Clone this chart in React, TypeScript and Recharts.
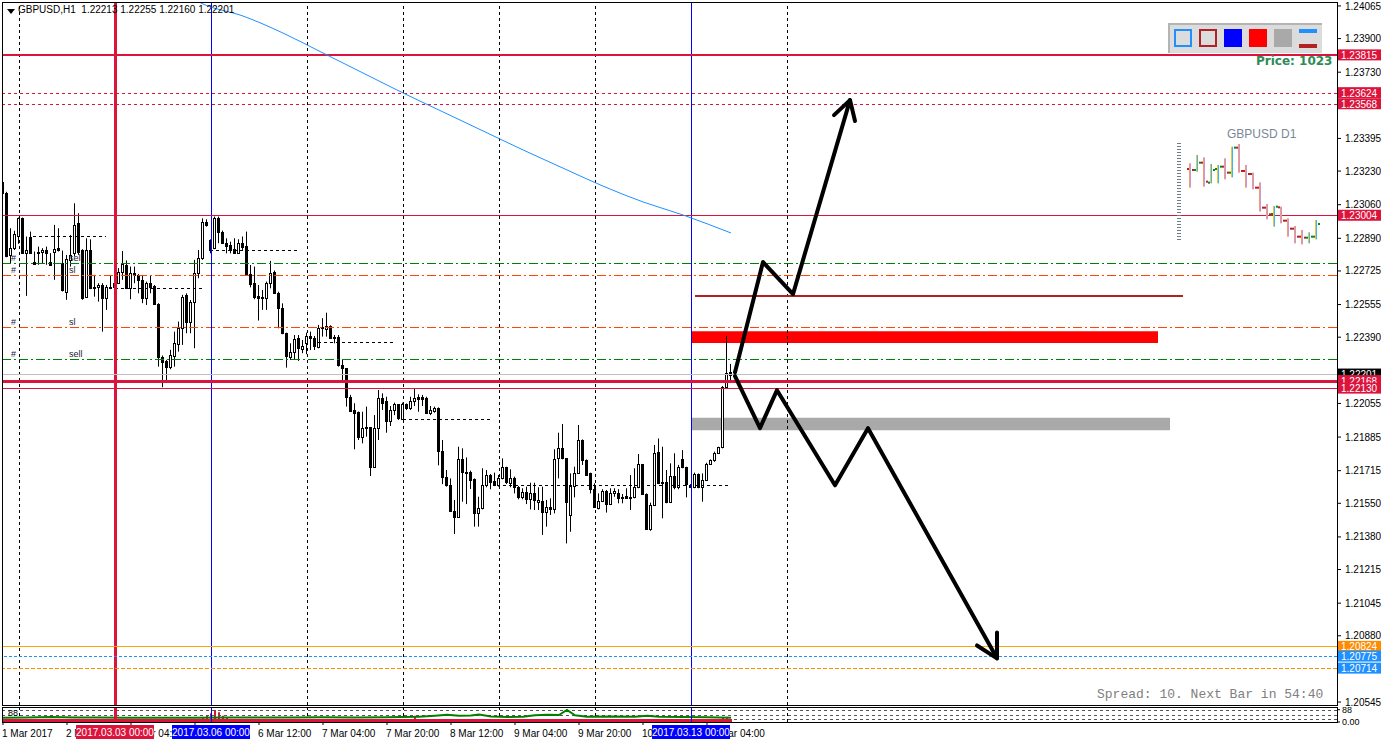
import React from 'react';
import { Bar, ComposedChart, Line, ReferenceArea, ReferenceLine, XAxis, YAxis } from 'recharts';

const FONT = '"Liberation Sans", Arial, sans-serif';
const CRIMSON = '#DC143C';
const BLUE = '#0000FF';

// GBPUSD H1, bar 0 = 1 Mar 2017 20:00
const opens = [
  1.23177, 1.23121, 1.22806, 1.2284, 1.22902, 1.22992, 1.22815, 1.22899, 1.22772, 1.22823,
  1.22823, 1.22831, 1.22772, 1.22823, 1.2284, 1.22764, 1.22621, 1.22781, 1.22815, 1.22966,
  1.22831, 1.22595, 1.22831, 1.22646, 1.22643, 1.22654, 1.2259, 1.22646, 1.22643, 1.22666,
  1.22722, 1.22756, 1.22638, 1.22713, 1.22705, 1.2268, 1.22587, 1.22663, 1.22649, 1.22558,
  1.22289, 1.22272, 1.22241, 1.22295, 1.22356, 1.22435, 1.22604, 1.22469, 1.2257, 1.22713,
  1.22789, 1.22974, 1.22882, 1.2284, 1.22991, 1.22924, 1.22868, 1.22856, 1.22835, 1.22818,
  1.22868, 1.22851, 1.2271, 1.22663, 1.22599, 1.22592, 1.22587, 1.22663, 1.22722, 1.22615,
  1.22536, 1.2241, 1.22292, 1.22317, 1.22384, 1.22329, 1.22363, 1.22396, 1.22384, 1.22342,
  1.22438, 1.22433, 1.22447, 1.22393, 1.22393, 1.2225, 1.22233, 1.22089, 1.22022, 1.22014,
  1.21883, 1.21937, 1.21934, 1.21735, 1.21929, 1.22081, 1.22069, 1.21968, 1.22022, 1.22052,
  1.21975, 1.22052, 1.2203, 1.22069, 1.22086, 1.22086, 1.22082, 1.22005, 1.22018, 1.2203,
  1.21816, 1.21685, 1.21642, 1.21513, 1.21482, 1.21772, 1.21708, 1.21708, 1.21671, 1.21503,
  1.21524, 1.21642, 1.21693, 1.21664, 1.21641, 1.21676, 1.21732, 1.21654, 1.21676, 1.21631,
  1.2158, 1.21609, 1.2157, 1.21604, 1.21555, 1.21562, 1.21508, 1.2153, 1.21519, 1.21777,
  1.21828, 1.21777, 1.21491, 1.21637, 1.21701, 1.2187, 1.21769, 1.21701, 1.21621, 1.21524,
  1.21563, 1.21614, 1.21546, 1.216, 1.21604, 1.21583, 1.21587, 1.21575, 1.21583, 1.21631,
  1.21749, 1.21597, 1.21418, 1.21541, 1.21811, 1.21651, 1.21659, 1.21558, 1.21688, 1.21634,
  1.21772, 1.21732, 1.21642, 1.21634, 1.21698, 1.21634, 1.21668, 1.21749, 1.21769, 1.21803,
  1.21833, 1.22136, 1.22213,
];
const highs = [
  1.23189, 1.23125, 1.22941, 1.22928, 1.22995, 1.22995, 1.22899, 1.22924, 1.22823, 1.22848,
  1.2284, 1.22848, 1.22815, 1.22958, 1.22941, 1.22828, 1.22806, 1.22907, 1.23067, 1.23017,
  1.22835, 1.2289, 1.22885, 1.22705, 1.22663, 1.22663, 1.22654, 1.227, 1.22697, 1.22739,
  1.22826, 1.22778, 1.22747, 1.22747, 1.2271, 1.227, 1.22671, 1.227, 1.22654, 1.22562,
  1.22297, 1.22275, 1.22326, 1.22418, 1.22469, 1.22604, 1.22612, 1.22578, 1.22781, 1.22831,
  1.22991, 1.22986, 1.22885, 1.23, 1.23, 1.22929, 1.2289, 1.22873, 1.2289, 1.22885,
  1.22899, 1.22924, 1.22755, 1.22747, 1.22654, 1.22629, 1.22671, 1.22776, 1.22727, 1.2262,
  1.22561, 1.22413, 1.22359, 1.22401, 1.22401, 1.22376, 1.22413, 1.22418, 1.22396, 1.22452,
  1.22486, 1.22514, 1.2245, 1.22401, 1.22401, 1.22278, 1.22233, 1.22098, 1.22056, 1.22014,
  1.22013, 1.22039, 1.21934, 1.21996, 1.22123, 1.22106, 1.22089, 1.22042, 1.22059, 1.22052,
  1.22059, 1.22055, 1.22089, 1.22131, 1.22101, 1.22098, 1.22089, 1.22042, 1.22039, 1.22035,
  1.2187, 1.21718, 1.21676, 1.21567, 1.21836, 1.21828, 1.21782, 1.21715, 1.21676, 1.21583,
  1.21727, 1.21718, 1.21698, 1.21705, 1.21693, 1.21777, 1.21735, 1.21722, 1.21685, 1.21637,
  1.21626, 1.21634, 1.21654, 1.21654, 1.21631, 1.21634, 1.21567, 1.21575, 1.21823, 1.21907,
  1.21951, 1.21777, 1.21701, 1.21735, 1.21946, 1.21873, 1.21772, 1.21705, 1.21651, 1.216,
  1.21621, 1.21617, 1.21626, 1.21626, 1.21621, 1.21597, 1.21626, 1.21693, 1.21727, 1.21799,
  1.21749, 1.216, 1.21553, 1.21845, 1.21878, 1.21836, 1.21718, 1.21752, 1.21803, 1.21744,
  1.21819, 1.21735, 1.21647, 1.21705, 1.21701, 1.21701, 1.21755, 1.21772, 1.21811, 1.21836,
  1.22143, 1.22396, 1.22255,
];
const lows = [
  1.2311, 1.22794, 1.22764, 1.22831, 1.22862, 1.22815, 1.22599, 1.22815, 1.22756, 1.22756,
  1.22761, 1.22756, 1.22751, 1.2268, 1.22823, 1.22621, 1.22579, 1.22747, 1.22798, 1.22806,
  1.22579, 1.22592, 1.22633, 1.22595, 1.2257, 1.22418, 1.22528, 1.22633, 1.22621, 1.22659,
  1.2268, 1.22633, 1.22582, 1.22663, 1.22612, 1.22562, 1.22553, 1.22612, 1.22553, 1.22241,
  1.22137, 1.22161, 1.22228, 1.22241, 1.22317, 1.22351, 1.2241, 1.2241, 1.22334, 1.22688,
  1.22781, 1.22949, 1.22814, 1.22835, 1.22865, 1.22862, 1.22814, 1.22814, 1.22814, 1.22814,
  1.22831, 1.227, 1.22642, 1.22582, 1.22474, 1.22528, 1.22528, 1.22637, 1.22612, 1.22435,
  1.22405, 1.22236, 1.22275, 1.22275, 1.2227, 1.22309, 1.22304, 1.22325, 1.22325, 1.22334,
  1.22393, 1.22393, 1.22381, 1.22359, 1.22241, 1.22174, 1.22039, 1.22014, 1.21823, 1.2187,
  1.21853, 1.21887, 1.21688, 1.21732, 1.2187, 1.22022, 1.21907, 1.21941, 1.21996, 1.21971,
  1.21971, 1.22022, 1.22022, 1.22042, 1.22013, 1.22042, 1.22002, 1.21996, 1.22008, 1.21742,
  1.21647, 1.21634, 1.21506, 1.21395, 1.21479, 1.21558, 1.21546, 1.21622, 1.21432, 1.21432,
  1.21519, 1.21631, 1.21621, 1.21637, 1.21634, 1.21671, 1.21647, 1.21631, 1.216, 1.2157,
  1.2157, 1.21546, 1.21519, 1.21516, 1.21516, 1.2139, 1.21432, 1.21491, 1.21499, 1.21676,
  1.21772, 1.21347, 1.21406, 1.2158, 1.21698, 1.21744, 1.21688, 1.216, 1.2153, 1.21519,
  1.21556, 1.21503, 1.21541, 1.21583, 1.2155, 1.2155, 1.21572, 1.21516, 1.21575, 1.21626,
  1.21592, 1.21415, 1.21411, 1.21536, 1.21647, 1.21474, 1.2155, 1.21553, 1.21621, 1.21621,
  1.21727, 1.2158, 1.21631, 1.21626, 1.21626, 1.21558, 1.21664, 1.21744, 1.2176, 1.21799,
  1.21828, 1.22131, 1.2216,
];
const closes = [
  1.23118, 1.22801, 1.2284, 1.22911, 1.22992, 1.22818, 1.22831, 1.22818, 1.22761, 1.22818,
  1.22831, 1.22818, 1.22756, 1.22836, 1.22831, 1.22629, 1.22784, 1.22806, 1.22958, 1.22823,
  1.22587, 1.22831, 1.22638, 1.22638, 1.22653, 1.2259, 1.22646, 1.22638, 1.22663, 1.22722,
  1.22759, 1.22638, 1.22713, 1.22705, 1.2268, 1.22587, 1.22663, 1.22646, 1.22558, 1.22289,
  1.22267, 1.22241, 1.223, 1.22359, 1.22435, 1.22595, 1.22469, 1.2257, 1.22713, 1.22789,
  1.22974, 1.22958, 1.22831, 1.22991, 1.22924, 1.22865, 1.22851, 1.22831, 1.22818, 1.22865,
  1.22848, 1.22705, 1.22659, 1.22595, 1.22587, 1.22587, 1.22663, 1.22713, 1.22615, 1.22536,
  1.2241, 1.22295, 1.22317, 1.22379, 1.22334, 1.22346, 1.22396, 1.22384, 1.22347, 1.22438,
  1.22443, 1.22447, 1.22384, 1.22386, 1.2225, 1.22233, 1.22089, 1.22019, 1.22005, 1.21884,
  1.21929, 1.21929, 1.21732, 1.21929, 1.22081, 1.22059, 1.21968, 1.22022, 1.22052, 1.2198,
  1.22052, 1.2203, 1.22069, 1.22082, 1.22079, 1.22079, 1.22005, 1.22022, 1.2203, 1.21816,
  1.21685, 1.21641, 1.21513, 1.21482, 1.21772, 1.21708, 1.21705, 1.21668, 1.21503, 1.21524,
  1.21642, 1.21693, 1.21659, 1.21641, 1.21676, 1.21732, 1.21659, 1.21676, 1.21631, 1.2158,
  1.21609, 1.2157, 1.21604, 1.21567, 1.21567, 1.21508, 1.2153, 1.21519, 1.21772, 1.21828,
  1.21777, 1.21558, 1.21637, 1.21705, 1.2187, 1.21769, 1.21693, 1.21621, 1.2153, 1.21562,
  1.21614, 1.21546, 1.216, 1.21612, 1.21575, 1.21575, 1.21575, 1.21583, 1.21631, 1.21749,
  1.21597, 1.21418, 1.21541, 1.21806, 1.21651, 1.21659, 1.21558, 1.21688, 1.21634, 1.21735,
  1.21732, 1.21647, 1.21634, 1.21698, 1.21634, 1.21668, 1.21749, 1.21769, 1.21803, 1.21833,
  1.22136, 1.22207, 1.22201,
];

const candles = opens.map((o, i) => ({ i, o, h: highs[i], l: lows[i], c: closes[i] }));

const priceTicks = [
  1.24065, 1.239, 1.2373, 1.23395, 1.2323, 1.2306, 1.2289, 1.22725, 1.22555, 1.2239,
  1.22055, 1.21885, 1.21715, 1.2155, 1.2138, 1.21215, 1.21045, 1.2088, 1.20545,
];
const timeTicks = [0, 16, 32, 48, 64, 80, 96, 112, 128, 144, 160, 176];
const timeLabels = [
  '1 Mar 2017', '2 Mar 12:00', '3 Mar 04:00', '3 Mar 20:00', '6 Mar 12:00', '7 Mar 04:00',
  '7 Mar 20:00', '8 Mar 12:00', '9 Mar 04:00', '9 Mar 20:00', '10 Mar 12:00', '13 Mar 04:00',
];
const daySeparators = [4, 76, 100, 124, 148, 196];

// moving average
const maLine = [
  { i: 48, p: 1.24095 }, { i: 50, p: 1.24075 }, { i: 60, p: 1.24014 }, { i: 70, p: 1.23928 },
  { i: 80, p: 1.23827 }, { i: 90, p: 1.23726 }, { i: 100, p: 1.23625 }, { i: 110, p: 1.23529 },
  { i: 120, p: 1.23433 }, { i: 130, p: 1.23337 }, { i: 140, p: 1.23245 }, { i: 150, p: 1.23154 },
  { i: 160, p: 1.23074 }, { i: 170, p: 1.23008 }, { i: 182, p: 1.22917 },
];

// horizontal levels with price tags on the axis
const levelPrices = [1.23815, 1.23624, 1.23568, 1.23004, 1.22201, 1.22168, 1.2213, 1.20824, 1.20775, 1.20714];
const levelStyles = [
  { stroke: CRIMSON, width: 2, dash: undefined, tag: CRIMSON },
  { stroke: CRIMSON, width: 1, dash: '3 3', tag: CRIMSON },
  { stroke: CRIMSON, width: 1, dash: '3 3', tag: CRIMSON },
  { stroke: CRIMSON, width: 1, dash: undefined, tag: CRIMSON },
  { stroke: '#C0C0C0', width: 1, dash: undefined, tag: '#000' },
  { stroke: CRIMSON, width: 3, dash: undefined, tag: CRIMSON },
  { stroke: CRIMSON, width: 1, dash: undefined, tag: CRIMSON },
  { stroke: '#FFA500', width: 1, dash: undefined, tag: '#FF8C00' },
  { stroke: '#1E90FF', width: 1, dash: '3 2', tag: '#1E90FF' },
  { stroke: '#FF8C00', width: 1, dash: '4 2', tag: '#1E90FF' },
];

// order lines (dash-dot)
const orderPrices = [1.22765, 1.22704, 1.22441, 1.22279];
const orderNames = ['sell', 'sl', 'sl', 'sell'];
const orderColors = ['#008000', '#FF4500', '#FF4500', '#008000'];

// short dotted levels: start bar, end bar, price
const pivotFrom = [7.5, 28, 51.75, 78.75, 100, 125];
const pivotTo = [25.75, 50, 73.75, 97.5, 121.75, 181.75];
const pivotPrice = [1.22898, 1.22638, 1.2283, 1.22365, 1.21975, 1.21641];

const sellZone = { from: 172, to: 288.75, low: 1.22361, high: 1.2242 };
const buyZone = { from: 172, to: 291.75, low: 1.2192, high: 1.21983 };
const targetLine = { from: 173, to: 295, p: 1.22598 };

const arrowUp = [
  { i: 183, p: 1.22213 }, { i: 190, p: 1.2277 }, { i: 197.5, p: 1.22608 }, { i: 211.75, p: 1.23589 },
];
const arrowUpHead = [{ i: 207.75, p: 1.23513 }, { i: 211.75, p: 1.23589 }, { i: 213, p: 1.23483 }];
const arrowDown = [
  { i: 183, p: 1.22193 }, { i: 189.25, p: 1.2193 }, { i: 193.5, p: 1.22122 }, { i: 208, p: 1.21641 },
  { i: 216.25, p: 1.2193 }, { i: 248.5, p: 1.20766 },
];
const arrowDownHead = [{ i: 243.5, p: 1.20831 }, { i: 248.5, p: 1.20766 }, { i: 248.5, p: 1.20897 }];

// sub window
const volRed = [
  { i: 50, v: 30 }, { i: 51, v: 45 }, { i: 52, v: 62 }, { i: 53, v: 86 }, { i: 54, v: 70 },
  { i: 55, v: 45 }, { i: 56, v: 30 }, { i: 103, v: 45 }, { i: 179, v: 18 }, { i: 180, v: 28 },
  { i: 181, v: 38 }, { i: 182, v: 22 },
];
const redBase = [{ i: 0, v: 10 }, { i: 182, v: 10 }];
const volGreen = [
  { i: 0, v: 30 }, { i: 6, v: 33 }, { i: 12, v: 35 }, { i: 18, v: 33 }, { i: 24, v: 33 },
  { i: 30, v: 30 }, { i: 36, v: 30 }, { i: 42, v: 30 }, { i: 48, v: 31 }, { i: 56, v: 33 },
  { i: 64, v: 32 }, { i: 72, v: 32 }, { i: 80, v: 34 }, { i: 88, v: 33 }, { i: 96, v: 34 },
  { i: 104, v: 38 }, { i: 108, v: 45 }, { i: 111, v: 52 }, { i: 114, v: 44 }, { i: 117, v: 46 },
  { i: 119, v: 54 }, { i: 122, v: 40 }, { i: 126, v: 36 }, { i: 130, v: 38 }, { i: 133, v: 48 },
  { i: 136, v: 52 }, { i: 139, v: 50 }, { i: 141, v: 86 }, { i: 143, v: 48 }, { i: 146, v: 38 },
  { i: 152, v: 40 }, { i: 158, v: 38 }, { i: 161, v: 44 }, { i: 164, v: 38 }, { i: 170, v: 36 },
  { i: 176, v: 34 }, { i: 182, v: 30 },
];
const subLevels = [80, 50, 20];

// GBPUSD D1 mini panel
const d1Open = [1.24675, 1.2463, 1.2496, 1.2406, 1.24675, 1.2478, 1.2451, 1.25635, 1.24585, 1.2445, 1.23835, 1.22935, 1.2265, 1.2295, 1.2235, 1.2199, 1.2163, 1.21585, 1.2163];
const d1High = [1.2493, 1.25305, 1.252, 1.249, 1.24855, 1.25155, 1.2568, 1.258, 1.24855, 1.2451, 1.24075, 1.231, 1.2301, 1.2298, 1.22455, 1.2211, 1.2193, 1.21825, 1.2238];
const d1Low = [1.23835, 1.24555, 1.2388, 1.2403, 1.2403, 1.2421, 1.243, 1.2451, 1.23835, 1.2376, 1.22755, 1.2241, 1.2208, 1.2223, 1.2163, 1.2133, 1.21285, 1.2133, 1.2151];
const d1Close = [1.2463, 1.2496, 1.24105, 1.2463, 1.2478, 1.2451, 1.25635, 1.24585, 1.2445, 1.23835, 1.22935, 1.22635, 1.2298, 1.2235, 1.2199, 1.2163, 1.21585, 1.2163, 1.222];
const d1Bars = d1Open.map((o, k) => ({ k: k + 1, o, h: d1High[k], l: d1Low[k], c: d1Close[k] }));

const hl = (d: any) => [d.l, d.h];

function renderCandle(props: any) {
  const { x, y, width, height, payload } = props;
  if (!payload || !Number.isFinite(x) || !Number.isFinite(y)) return <g />;
  const cx = Math.round(x + width / 2) - 0.5;
  const span = payload.h - payload.l;
  const k = span > 0 ? height / span : 0;
  const yo = y + (payload.h - payload.o) * k;
  const yc = y + (payload.h - payload.c) * k;
  const top = Math.round(Math.min(yo, yc)) + 0.5;
  const bot = Math.max(Math.round(Math.max(yo, yc)) + 0.5, top + 1);
  const bull = payload.c > payload.o;
  return (
    <g>
      <line x1={cx} x2={cx} y1={y} y2={y + height} stroke="#000" />
      <rect x={cx - 1} y={top} width={2} height={bot - top} fill={bull ? '#fff' : '#000'} stroke="#000" />
    </g>
  );
}

function renderD1Bar(props: any) {
  const { x, y, width, height, payload } = props;
  if (!payload || !Number.isFinite(x)) return <g />;
  const cx = Math.round(x + width / 2);
  const span = payload.h - payload.l;
  const k = span > 0 ? height / span : 0;
  const yo = y + (payload.h - payload.o) * k;
  const yc = y + (payload.h - payload.c) * k;
  const bull = payload.c >= payload.o;
  const tick = bull ? '#0A8A0A' : '#B22222';
  return (
    <g>
      <rect x={cx - 1} y={y} width={1} height={height} fill={bull ? '#E8C547' : '#F0A070'} />
      <rect x={cx} y={y} width={1} height={height} fill={bull ? '#3AB8E8' : '#C996D9'} />
      <rect x={cx - 3} y={yo - 1} width={2} height={2} fill={tick} />
      <rect x={cx + 2} y={yc - 1} width={2} height={2} fill={tick} />
    </g>
  );
}

const priceTag = (text: string, bg: string) => (props: any) => {
  const vb = props.viewBox || {};
  const left = (vb.x || 0) + (vb.width || 0) + 1;
  return (
    <g>
      <rect x={left} y={vb.y - 6} width={43} height={11} fill={bg} />
      <text x={left + 3} y={vb.y + 3.5} fill="#fff" fontSize={10} fontFamily={FONT}>{text}</text>
    </g>
  );
};

const orderLabel = (name: string) => (props: any) => {
  const vb = props.viewBox || {};
  return (
    <g fontFamily={FONT} fontSize={9} fill="#1b1b33">
      <text x={vb.x + 8} y={vb.y - 2}>#</text>
      <text x={vb.x + 66} y={vb.y - 2}>{name}</text>
    </g>
  );
};

const timeTag = (text: string, bg: string) => (props: any) => {
  const vb = props.viewBox || {};
  const top = vb.y + vb.height + 3;
  return (
    <g>
      <rect x={vb.x - 39} y={top} width={78} height={14} fill={bg} />
      <text x={vb.x} y={top + 11} fill="#fff" fontSize={10} fontFamily={FONT} textAnchor="middle">{text}</text>
    </g>
  );
};

const TimeTick = (props: any) => {
  const { x, y, payload } = props;
  const idx = timeTicks.indexOf(payload.value);
  return (
    <text x={x - 1} y={y + 10} fontSize={10} fontFamily={FONT} fill="#000" textAnchor="start">
      {idx >= 0 ? timeLabels[idx] : ''}
    </text>
  );
};

const abs = (left: number, top: number, extra: any = {}) => ({ position: 'absolute' as const, left, top, ...extra });
const SUB_MARGIN = { top: 2, right: 0, left: 3, bottom: 0 };

export default function App() {
  return (
    <div style={{ position: 'absolute', left: 0, top: 0, width: 1381, height: 744, background: '#fff', overflow: 'hidden', fontFamily: FONT }}>
      <div style={abs(0, 0)}>
        <ComposedChart width={1381} height={712} data={candles} margin={{ top: 2, right: 0, left: 3, bottom: 7 }}>
          <XAxis dataKey="i" type="number" domain={[0, 333.5]} allowDataOverflow hide ticks={timeTicks} />
          <YAxis
            orientation="right"
            type="number"
            domain={[1.2053, 1.24085]}
            allowDataOverflow
            ticks={priceTicks}
            interval={0}
            width={44}
            axisLine={false}
            tickLine={{ stroke: '#000' }}
            tickSize={4}
            tickMargin={4}
            tick={{ fontSize: 10, fill: '#000', fontFamily: FONT }}
            tickFormatter={(v: number) => v.toFixed(5)}
          />
          {daySeparators.map((d) => (
            <ReferenceLine key={'g' + d} x={d} stroke="#000" strokeDasharray="3 3" shapeRendering="crispEdges" />
          ))}
          <ReferenceArea x1={sellZone.from} x2={sellZone.to} y1={sellZone.low} y2={sellZone.high} fill="#FF0000" fillOpacity={1} stroke="none" />
          <ReferenceArea x1={buyZone.from} x2={buyZone.to} y1={buyZone.low} y2={buyZone.high} fill="#A9A9A9" fillOpacity={1} stroke="none" />
          <ReferenceLine
            segment={[{ x: targetLine.from, y: targetLine.p }, { x: targetLine.to, y: targetLine.p }]}
            stroke="#B22222"
            strokeWidth={2}
          />
          {orderPrices.map((p, k) => (
            <ReferenceLine key={'o' + k} y={p} stroke={orderColors[k]} strokeDasharray="9 3 2 3" shapeRendering="crispEdges" label={orderLabel(orderNames[k])} />
          ))}
          {pivotPrice.map((p, k) => (
            <ReferenceLine
              key={'pv' + k}
              segment={[{ x: pivotFrom[k], y: p }, { x: pivotTo[k], y: p }]}
              stroke="#000"
              strokeDasharray="3 3"
              shapeRendering="crispEdges"
            />
          ))}
          <ReferenceLine x={28} stroke={CRIMSON} strokeWidth={3} shapeRendering="crispEdges" />
          <ReferenceLine x={52} stroke={BLUE} shapeRendering="crispEdges" />
          <ReferenceLine x={172} stroke={BLUE} shapeRendering="crispEdges" />
          {levelPrices.map((p, k) => (
            <ReferenceLine
              key={'l' + k}
              y={p}
              stroke={levelStyles[k].stroke}
              strokeWidth={levelStyles[k].width}
              strokeDasharray={levelStyles[k].dash}
              shapeRendering="crispEdges"
              label={priceTag(p.toFixed(5), levelStyles[k].tag)}
            />
          ))}
          <Bar dataKey={hl} barSize={3} shape={renderCandle} isAnimationActive={false} />
          <Line data={maLine} dataKey="p" type="monotone" stroke="#1E90FF" strokeWidth={1} dot={false} activeDot={false} isAnimationActive={false} />
          {[arrowUp, arrowUpHead, arrowDown, arrowDownHead].map((a, k) => (
            <Line
              key={'a' + k}
              data={a}
              dataKey="p"
              type="linear"
              stroke="#000"
              strokeWidth={4}
              strokeLinejoin="round"
              strokeLinecap="round"
              dot={false}
              activeDot={false}
              isAnimationActive={false}
            />
          ))}
        </ComposedChart>
      </div>

      <div style={abs(0, 706, { background: '#fff', width: 1381, height: 38 })}>
        <ComposedChart width={1381} height={38} data={volRed} margin={SUB_MARGIN}>
          <XAxis
            dataKey="i"
            type="number"
            domain={[0, 333.5]}
            allowDataOverflow
            ticks={timeTicks}
            interval={0}
            height={22}
            axisLine={false}
            tickLine={{ stroke: '#000' }}
            tickSize={3}
            tick={<TimeTick />}
          />
          <YAxis
            orientation="right"
            type="number"
            domain={[0, 100]}
            ticks={[0, 88]}
            interval={0}
            width={44}
            axisLine={false}
            tickLine={{ stroke: '#000' }}
            tickSize={3}
            tickMargin={2}
            tick={{ fontSize: 9, fill: '#000', fontFamily: FONT }}
            tickFormatter={(v: number) => (v === 0 ? '0.00' : String(v))}
          />
          {subLevels.map((v) => (
            <ReferenceLine key={'s' + v} y={v} stroke="#555" strokeDasharray="3 3" shapeRendering="crispEdges" />
          ))}
          {daySeparators.map((d) => (
            <ReferenceLine key={'sg' + d} x={d} stroke="#000" strokeDasharray="3 3" shapeRendering="crispEdges" />
          ))}
          <Bar dataKey="v" fill={CRIMSON} barSize={2} isAnimationActive={false} />
          <Line data={redBase} dataKey="v" type="linear" stroke={CRIMSON} strokeWidth={3} dot={false} activeDot={false} isAnimationActive={false} />
          <Line data={volGreen} dataKey="v" type="linear" stroke="#008000" strokeWidth={2} dot={false} activeDot={false} isAnimationActive={false} />
        </ComposedChart>
      </div>

      {/* vertical line time tags, drawn over the time axis */}
      <div style={abs(0, 706)}>
        <ComposedChart width={1381} height={38} data={volRed} margin={SUB_MARGIN}>
          <XAxis dataKey="i" type="number" domain={[0, 333.5]} allowDataOverflow height={22} tick={false} tickLine={false} axisLine={false} />
          <YAxis orientation="right" type="number" domain={[0, 100]} allowDataOverflow width={44} tick={false} tickLine={false} axisLine={false} />
          <Line dataKey="v" stroke="none" dot={false} activeDot={false} isAnimationActive={false} />
          <ReferenceLine x={28} stroke={CRIMSON} strokeWidth={3} shapeRendering="crispEdges" label={timeTag('2017.03.03 00:00', CRIMSON)} />
          <ReferenceLine x={52} stroke={BLUE} shapeRendering="crispEdges" label={timeTag('2017.03.06 00:00', BLUE)} />
          <ReferenceLine x={172} stroke={BLUE} shapeRendering="crispEdges" label={timeTag('2017.03.13 00:00', BLUE)} />
        </ComposedChart>
      </div>

      {/* window frames */}
      <div style={abs(2, 2, { width: 1336, height: 704, border: '1px solid #000', boxSizing: 'border-box', pointerEvents: 'none' })} />
      <div style={abs(2, 707, { width: 1336, height: 16, border: '1px solid #000', boxSizing: 'border-box', pointerEvents: 'none' })} />

      {/* D1 mini panel */}
      <div style={abs(1180, 144)}>
        <ComposedChart width={150} height={101} data={d1Bars} margin={{ top: 0, right: 0, left: 0, bottom: 0 }}>
          <XAxis dataKey="k" type="number" domain={[-0.53, 20.9]} allowDataOverflow hide />
          <YAxis type="number" domain={[1.21255, 1.258]} allowDataOverflow hide />
          <Bar dataKey={hl} barSize={2} shape={renderD1Bar} isAnimationActive={false} />
        </ComposedChart>
      </div>
      <div
        style={abs(1177, 143, {
          width: 4,
          height: 99,
          background: 'repeating-linear-gradient(to bottom, #6C7A89 0px, #6C7A89 1px, transparent 1px, transparent 3px)',
        })}
      />
      <div style={abs(1227, 127, { fontSize: 12, color: '#7A8797', fontFamily: FONT })}>GBPUSD D1</div>

      {/* title */}
      <div style={abs(7, 9, { width: 0, height: 0, borderLeft: '4px solid transparent', borderRight: '4px solid transparent', borderTop: '5px solid #000' })} />
      <div style={abs(18, 4, { fontSize: 10, color: '#000', fontFamily: FONT, whiteSpace: 'pre' })}>GBPUSD,H1  1.22213 1.22255 1.22160 1.22201</div>

      {/* tool panel */}
      <div style={abs(1168, 23, { width: 154, height: 30, background: '#DCDCDC', borderTop: '2px solid #B4B4B4', borderLeft: '2px solid #B4B4B4', boxSizing: 'border-box' })} />
      <div style={abs(1174, 29, { width: 18, height: 18, border: '2px solid #1E90FF', boxSizing: 'border-box' })} />
      <div style={abs(1199, 29, { width: 18, height: 18, border: '2px solid #B22222', boxSizing: 'border-box' })} />
      <div style={abs(1224, 29, { width: 18, height: 18, background: '#0000FF' })} />
      <div style={abs(1249, 29, { width: 18, height: 18, background: '#FF0000' })} />
      <div style={abs(1274, 29, { width: 18, height: 18, background: '#A9A9A9' })} />
      <div style={abs(1299, 29, { width: 18, height: 4, background: '#1E90FF' })} />
      <div style={abs(1299, 44, { width: 18, height: 4, background: '#B22222' })} />

      <div style={abs(1256, 54, { fontSize: 12, fontWeight: 'bold', color: '#2E8B57', fontFamily: '"DejaVu Sans", sans-serif' })}>Price: 1023</div>
      <div style={abs(1097, 687, { fontSize: 13, color: '#808080', fontFamily: '"Liberation Mono", monospace', whiteSpace: 'pre' })}>Spread: 10. Next Bar in 54:40</div>
      <div style={abs(8, 708, { fontSize: 9, color: '#000', fontFamily: FONT })}>88</div>
    </div>
  );
}
